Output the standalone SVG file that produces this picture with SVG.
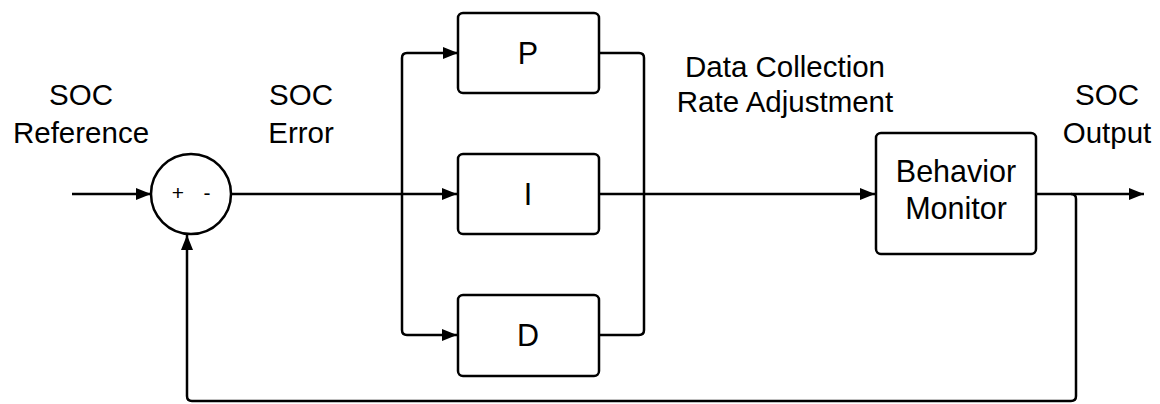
<svg xmlns="http://www.w3.org/2000/svg" width="1160" height="404" viewBox="0 0 1160 404">
  <defs>
    <marker id="arrow" markerUnits="userSpaceOnUse" markerWidth="16" markerHeight="12" refX="15" refY="6" orient="auto">
      <path d="M0,0 L15,6 L0,12 z" fill="#000"/>
    </marker>
    <style>
      .box { fill: #fff; stroke: #000; stroke-width: 2.5; }
      .wire { fill: none; stroke: #000; stroke-width: 2.5; }
      .lbl { font-family: "Liberation Sans", Arial, sans-serif; font-size: 29.5px; fill: #000; text-anchor: middle; }
      .blk { font-family: "Liberation Sans", Arial, sans-serif; font-size: 30.5px; fill: #000; text-anchor: middle; }
      .sign { font-family: "Liberation Sans", Arial, sans-serif; font-size: 21px; fill: #000; text-anchor: middle; }
    </style>
  </defs>
  <rect width="1160" height="404" fill="#fff"/>

  <!-- connectors -->
  <g id="connectors">
    <path class="wire" d="M72,194 H151" marker-end="url(#arrow)"/>
    <path class="wire" d="M232,194 H457" marker-end="url(#arrow)"/>
    <path class="wire" d="M457,53 H407 Q402,53 402,58 V330 Q402,335 407,335 H457" marker-end="url(#arrow)"/>
    <path class="wire" d="M457,53 H458" marker-end="url(#arrow)"/>
    <path class="wire" d="M599,53 H639 Q644,53 644,58 V330 Q644,335 639,335 H599"/>
    <path class="wire" d="M599,194 H875" marker-end="url(#arrow)"/>
    <path class="wire" d="M1036,194 H1144" marker-end="url(#arrow)"/>
    <path class="wire" d="M1071,194 Q1076,194 1076,199 V396 Q1076,401 1071,401 H192 Q187,401 187,396 V235" marker-end="url(#arrow)"/>
  </g>

  <!-- summing junction -->
  <g id="sum">
    <circle class="box" cx="191" cy="194" r="40"/>
    <text class="sign" x="178" y="200">+</text>
    <text class="sign" x="207" y="200">-</text>
  </g>

  <g id="P">
    <rect class="box" x="458" y="13" width="141" height="80" rx="5"/>
    <text class="blk" x="528" y="64">P</text>
  </g>
  <g id="I">
    <rect class="box" x="458" y="154" width="141" height="80" rx="5"/>
    <text class="blk" x="528" y="205">I</text>
  </g>
  <g id="D">
    <rect class="box" x="458" y="295" width="141" height="81" rx="5"/>
    <text class="blk" x="528" y="346">D</text>
  </g>
  <g id="monitor">
    <rect class="box" x="876" y="133" width="160" height="121" rx="5"/>
    <text class="blk" x="956" y="182">Behavior</text>
    <text class="blk" x="956" y="219">Monitor</text>
  </g>

  <!-- signal labels -->
  <g id="labels">
    <text class="lbl" x="81" y="105">SOC</text>
    <text class="lbl" x="81" y="143">Reference</text>
    <text class="lbl" x="301" y="105">SOC</text>
    <text class="lbl" x="301" y="143">Error</text>
    <text class="lbl" x="785" y="77">Data Collection</text>
    <text class="lbl" x="785" y="112">Rate Adjustment</text>
    <text class="lbl" x="1107" y="105">SOC</text>
    <text class="lbl" x="1107" y="143">Output</text>
  </g>
</svg>
